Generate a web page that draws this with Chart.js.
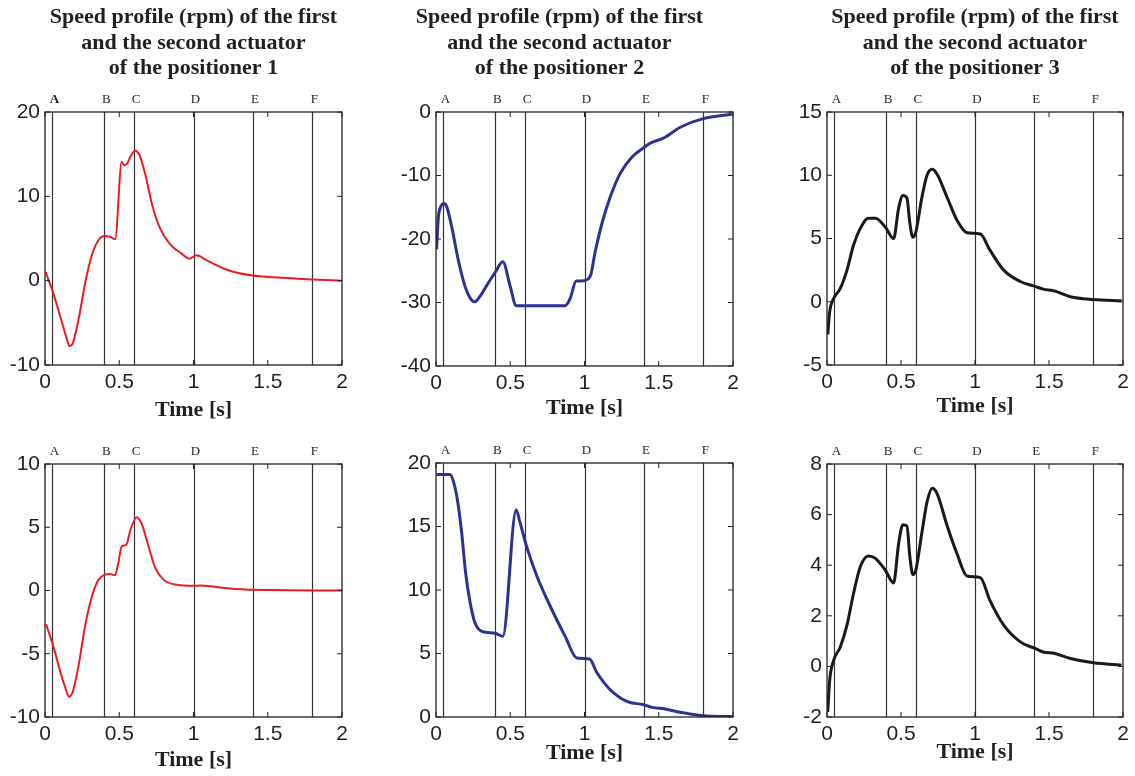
<!DOCTYPE html>
<html>
<head>
<meta charset="utf-8">
<script src="https://cdn.jsdelivr.net/npm/chart.js@4"></script>
<style>
  html, body { margin: 0; padding: 0; background: #fff; overflow: hidden; }
  body { width: 1135px; height: 776px; position: relative; }
  .panel { position: absolute; }
</style>
</head>
<body>
<script>
// time marks and their letters
const markerTimes = [0.05, 0.4, 0.6, 1.0, 1.4, 1.8];
const markerLabels = ['A', 'B', 'C', 'D', 'E', 'F'];
const xTicks = [0, 0.5, 1, 1.5, 2];

// positioner 1, first actuator (red, top)
const t1 = [0.004, 0.056, 0.11, 0.146, 0.164, 0.187, 0.225, 0.27, 0.315, 0.36, 0.40, 0.438, 0.472, 0.517, 0.533, 0.55, 0.58, 0.607, 0.636, 0.674, 0.72, 0.775, 0.843, 0.92, 0.973, 1.02, 1.09, 1.225, 1.4, 1.54, 1.8, 2.0];
const v1 = [1.05, -1.5, -4.7, -6.85, -7.75, -7.4, -4.7, -0.3, 3.0, 4.8, 5.3, 5.2, 4.9, 14.1, 13.7, 13.8, 14.9, 15.4, 14.9, 12.7, 9.1, 6.2, 4.3, 3.2, 2.6, 3.0, 2.4, 1.3, 0.6, 0.4, 0.14, 0.0];

// positioner 1, second actuator (red, bottom)
const t4 = [0.007, 0.056, 0.1, 0.14, 0.162, 0.184, 0.225, 0.27, 0.315, 0.36, 0.40, 0.438, 0.47, 0.494, 0.517, 0.546, 0.578, 0.618, 0.65, 0.697, 0.742, 0.8, 0.89, 1.0, 1.045, 1.225, 1.4, 2.0];
const v4 = [-2.66, -4.4, -6.3, -7.8, -8.4, -8.1, -6.0, -2.8, -0.5, 0.84, 1.24, 1.3, 1.2, 2.2, 3.5, 3.6, 4.9, 5.8, 5.3, 3.5, 1.8, 0.84, 0.45, 0.37, 0.4, 0.18, 0.05, 0.0];

// positioner 2 (blue)
const t2 = [0.004, 0.016, 0.027, 0.054, 0.072, 0.106, 0.15, 0.196, 0.23, 0.258, 0.297, 0.35, 0.40, 0.45, 0.5, 0.54, 0.87, 0.903, 0.944, 0.982, 1.038, 1.072, 1.117, 1.173, 1.24, 1.32, 1.4, 1.443, 1.533, 1.645, 1.8, 1.993];
const v2 = [-21.6, -16.5, -15.2, -14.4, -14.9, -18.1, -23.3, -27.5, -29.3, -29.9, -29.0, -27.0, -25.2, -23.6, -27.5, -30.5, -30.5, -29.4, -26.6, -26.6, -25.9, -22.0, -17.6, -13.4, -9.7, -7.1, -5.6, -4.9, -4.1, -2.4, -1.05, -0.37];

const t5 = [0.004, 0.094, 0.117, 0.144, 0.173, 0.2, 0.23, 0.263, 0.308, 0.398, 0.45, 0.54, 0.566, 0.611, 0.679, 0.77, 0.87, 0.948, 1.034, 1.083, 1.173, 1.285, 1.398, 1.454, 1.544, 1.645, 1.8, 1.993];
const v5 = [19.1, 19.1, 18.55, 17.1, 14.5, 11.3, 9.0, 7.4, 6.75, 6.6, 6.35, 16.3, 15.3, 13.4, 11.1, 8.7, 6.35, 4.65, 4.57, 3.5, 2.15, 1.23, 0.97, 0.76, 0.63, 0.37, 0.1, 0.03];

// positioner 3 (black), both actuators read at the same times
const t3 = [0.005, 0.018, 0.045, 0.09, 0.135, 0.18, 0.225, 0.28, 0.327, 0.394, 0.45, 0.484, 0.513, 0.54, 0.56, 0.58, 0.6, 0.642, 0.676, 0.71, 0.743, 0.81, 0.878, 0.946, 1.036, 1.1, 1.194, 1.306, 1.41, 1.46, 1.54, 1.645, 1.8, 1.99];
const v3 = [-2.6, -0.8, 0.26, 1.05, 2.5, 4.5, 5.8, 6.6, 6.6, 5.9, 5.0, 7.4, 8.4, 8.2, 6.2, 5.1, 5.5, 8.3, 10.0, 10.47, 10.1, 8.3, 6.45, 5.45, 5.35, 4.1, 2.5, 1.6, 1.2, 1.0, 0.84, 0.4, 0.18, 0.07];
const v6 = [-1.8, -0.55, 0.24, 0.77, 1.63, 2.9, 3.94, 4.36, 4.27, 3.8, 3.3, 4.86, 5.6, 5.55, 4.33, 3.63, 3.8, 5.32, 6.5, 7.04, 6.84, 5.59, 4.46, 3.57, 3.51, 2.62, 1.63, 0.97, 0.7, 0.57, 0.51, 0.31, 0.14, 0.05];

const titleLines = n => ['Speed profile (rpm) of the first', 'and the second actuator', 'of the positioner ' + n];

const RED = '#ec1c24', BLUE = '#2e3192', BLACK = '#1a1a1a', INK = '#231f20';

// plot boxes [left, top, right, bottom] in page pixels
const panels = [
  { t: t1, v: v1, color: RED,   lw: 2,   y: [-10, 20, 10], box: [45, 112, 342, 365], title: titleLines(1), full: false, gap: 45, boldA: true },
  { t: t2, v: v2, color: BLUE,  lw: 3,   y: [-40, 0, 10],  box: [436, 112, 733, 366], title: titleLines(2), full: true,  gap: 42 },
  { t: t3, v: v3, color: BLACK, lw: 3,   y: [-5, 15, 5],   box: [827, 112, 1123, 365], title: titleLines(3), full: false, gap: 41 },
  { t: t4, v: v4, color: RED,   lw: 2,   y: [-10, 10, 5],  box: [45, 464, 342, 717], gap: 43 },
  { t: t5, v: v5, color: BLUE,  lw: 3,   y: [0, 20, 5],    box: [436, 463, 733, 717], gap: 36 },
  { t: t3, v: v6, color: BLACK, lw: 3,   y: [-2, 8, 2],    box: [827, 464, 1123, 717], gap: 35 }
];

const YW = 50, XH = 60, PADR = 15;

const framePlugin = {
  id: 'frame',
  beforeDatasetsDraw(chart) {
    const { ctx, chartArea: a, scales: { x } } = chart;
    ctx.save();
    ctx.strokeStyle = '#333';
    ctx.lineWidth = 1.2;
    markerTimes.forEach(m => {
      const px = Math.round(x.getPixelForValue(m)) + 0.5;
      ctx.beginPath();
      ctx.moveTo(px, a.top);
      ctx.lineTo(px, a.bottom);
      ctx.stroke();
    });
    ctx.restore();
  },
  afterDraw(chart, args, opts) {
    const { ctx, chartArea: a, scales: { x, y } } = chart;
    ctx.save();
    ctx.strokeStyle = '#222';
    ctx.lineWidth = 1.3;
    ctx.strokeRect(a.left, a.top, a.right - a.left, a.bottom - a.top);
    // inward tick marks on all four sides
    ctx.lineWidth = 1;
    const tl = 5;
    x.ticks.forEach(tk => {
      const px = x.getPixelForValue(tk.value);
      ctx.beginPath();
      ctx.moveTo(px, a.bottom); ctx.lineTo(px, a.bottom - tl);
      ctx.moveTo(px, a.top); ctx.lineTo(px, a.top + tl);
      ctx.stroke();
    });
    y.ticks.forEach(tk => {
      const py = y.getPixelForValue(tk.value);
      ctx.beginPath();
      ctx.moveTo(a.left, py); ctx.lineTo(a.left + tl, py);
      ctx.moveTo(a.right, py); ctx.lineTo(a.right - tl, py);
      ctx.stroke();
    });
    // letters above the time marks
    ctx.fillStyle = INK;
    ctx.textAlign = 'center';
    ctx.textBaseline = 'middle';
    markerTimes.forEach((m, i) => {
      const bold = opts.boldA && i === 0;
      ctx.font = (bold ? 'bold ' : '') + '13px "Liberation Serif", serif';
      ctx.fillText(markerLabels[i], x.getPixelForValue(m) + 2, a.top - 12);
    });
    ctx.restore();
  }
};

panels.forEach(p => {
  const [L, T, R, B] = p.box;
  const titled = !!p.title;
  const top = titled ? 0 : T - 30;
  const left = L - YW;
  const w = R - L + YW + PADR;
  const h = B + XH - top;

  const div = document.createElement('div');
  div.className = 'panel';
  div.style.left = left + 'px';
  div.style.top = top + 'px';
  div.style.width = w + 'px';
  div.style.height = h + 'px';
  const canvas = document.createElement('canvas');
  canvas.width = w;
  canvas.height = h;
  canvas.style.width = w + 'px';
  canvas.style.height = h + 'px';
  div.appendChild(canvas);
  document.body.appendChild(div);

  const titleSize = 22, titleLH = '25.5px';
  const titleBottom = titled ? T - (5 + 3 * 25.5) : 0;

  new Chart(canvas, {
    type: 'line',
    data: {
      datasets: [{
        data: p.t.map((tv, i) => ({ x: tv, y: p.v[i] })),
        borderColor: p.color,
        borderWidth: p.lw,
        pointRadius: 0,
        cubicInterpolationMode: 'monotone',
        fill: false
      }]
    },
    options: {
      responsive: false,
      animation: false,
      layout: { padding: { left: 0, right: PADR, top: titled ? 0 : 30, bottom: 0 } },
      scales: {
        x: {
          type: 'linear',
          min: 0, max: 2,
          afterBuildTicks: s => { s.ticks = xTicks.map(v => ({ value: v })); },
          afterFit: s => { s.height = XH; },
          grid: { display: false, drawTicks: false },
          border: { display: false },
          ticks: {
            padding: 5,
            maxRotation: 0,
            autoSkip: false,
            color: INK,
            font: { family: '"Liberation Sans", Arial, sans-serif', size: 21 },
            callback: v => String(v)
          },
          title: {
            display: true,
            text: 'Time [s]',
            color: INK,
            font: { family: '"Liberation Serif", "Times New Roman", serif', size: 22, weight: 'bold', lineHeight: 1.2 },
            padding: { top: 0, bottom: XH - 13.2 - p.gap }
          }
        },
        y: {
          min: p.y[0], max: p.y[1],
          afterFit: s => { s.width = YW; },
          grid: { display: false, drawTicks: false },
          border: { display: false },
          ticks: {
            stepSize: p.y[2],
            padding: 5,
            color: INK,
            font: { family: '"Liberation Sans", Arial, sans-serif', size: 21 },
            callback: v => String(v)
          }
        }
      },
      plugins: {
        legend: { display: false },
        tooltip: { enabled: false },
        frame: { boldA: !!p.boldA },
        title: {
          display: titled,
          text: p.title || '',
          fullSize: p.full,
          color: INK,
          font: { family: '"Liberation Serif", "Times New Roman", serif', size: titleSize, weight: 'bold', lineHeight: titleLH },
          padding: { top: 5, bottom: titleBottom }
        }
      }
    },
    plugins: [framePlugin]
  });
});
</script>
</body>
</html>
